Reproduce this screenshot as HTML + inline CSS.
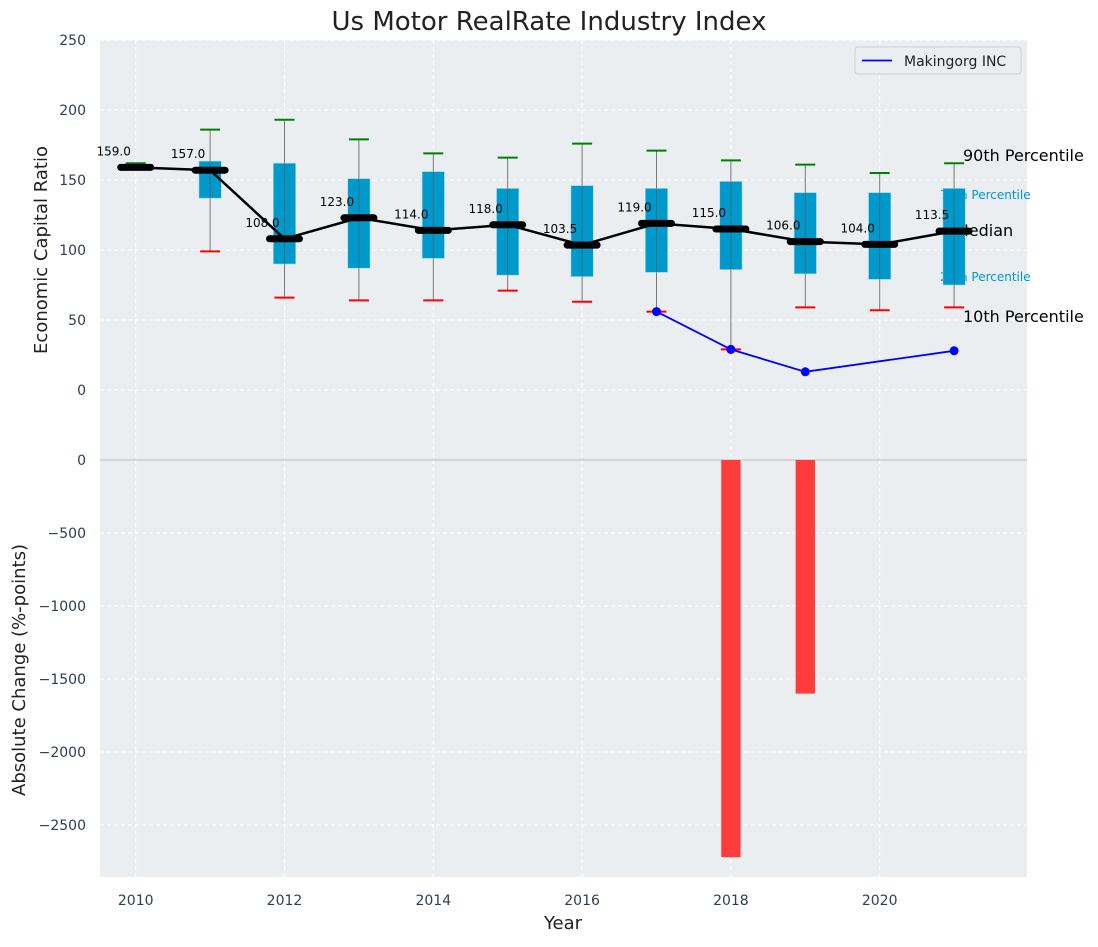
<!DOCTYPE html>
<html><head><meta charset="utf-8"><style>
body{margin:0;background:#fff;}
svg{font-family:"DejaVu Sans","Liberation Sans",sans-serif;}
</style></head><body>
<svg id="c" width="1098" height="942" xmlns="http://www.w3.org/2000/svg"></svg>
<script>
const years=[2010,2011,2012,2013,2014,2015,2016,2017,2018,2019,2020,2021];
const p90=[162,186,193,179,169,166,176,171,164,161,155,162];
const p75=[null,163.5,162,151,156,144,146,144,149,141,141,144];
const med=[159,157,108,123,114,118,103.5,119,115,106,104,113.5];
const p25=[null,137,90,87,94,82,81,84,86,83,79,75];
const p10=[null,99,66,64,64,71,63,56,29,59,57,59];
const compYears=[2017,2018,2019,2021];
const compVals=[56,29,13,28];
const chgYears=[2018,2019];
const chgVals=[-2720,-1600];
const topTicks=[0,50,100,150,200,250];
const botTicks=[0,-500,-1000,-1500,-2000,-2500];
const xTicks=[2010,2012,2014,2016,2018,2020];

const NS='http://www.w3.org/2000/svg';
const svg=document.getElementById('c');
const L=100,R=1027;
const X0=2009.52,X1=2021.98;
const X=y=>L+(y-X0)/(X1-X0)*(R-L);
const YT=v=>390-1.4*v;
const YB=v=>460-v*(73/500);
function el(tag,attrs,parent,text){const e=document.createElementNS(NS,tag);for(const k in attrs)e.setAttribute(k,attrs[k]);if(text!==undefined)e.textContent=text;(parent||svg).appendChild(e);return e;}

let bg=el('rect',{x:L,y:40,width:R-L,height:837,fill:'#eaeef0'});

xTicks.forEach(t=>{let g=el('line',{x1:X(t),x2:X(t),y1:40,y2:877,stroke:'#fff','stroke-dasharray':'4,3'});
 let tl=el('text',{x:X(t),y:905,'text-anchor':'middle','font-size':14,fill:'#2d3e50'},null,t);});
topTicks.forEach(t=>{let g=el('line',{x1:L,x2:R,y1:YT(t),y2:YT(t),stroke:'#fff','stroke-dasharray':'4,3'});
 let tl=el('text',{x:86,y:YT(t)+5,'text-anchor':'end','font-size':14,fill:'#2d3e50'},null,t);});
botTicks.forEach(t=>{let g=el('line',{x1:L,x2:R,y1:YB(t),y2:YB(t),stroke:t===0?'#bbb':'#fff','stroke-dasharray':t===0?'':'4,3'});
 let tl=el('text',{x:86,y:YB(t)+5,'text-anchor':'end','font-size':14,fill:'#2d3e50'},null,(t<0?'\u2212'+(-t):t));});

const rl=[['90th Percentile',963,161,16,'#000'],['75th Percentile',940,199,12,'#0099cc'],['Median',955,236,16,'#000'],['25th Percentile',940,281,12,'#0099cc'],['10th Percentile',963,322,16,'#000']];
rl.forEach(r=>{let t=el('text',{x:r[1],y:r[2],'font-size':r[3],fill:r[4]},null,r[0]);});

const pxYr=(R-L)/(X1-X0);
const bw=0.3*pxYr, cw=20;
years.forEach((y,i)=>{const x=X(y);
 if(p10[i]!==null){let w=el('line',{x1:x,x2:x,y1:YT(p10[i]),y2:YT(p90[i]),stroke:'#777','stroke-width':1});}
 if(p75[i]!==null){let b=el('rect',{x:x-bw/2,y:YT(p75[i]),width:bw,height:YT(p25[i])-YT(p75[i]),fill:'#0099cc',stroke:'#a8d8ea','stroke-width':0.6});
  let w2=el('line',{x1:x,x2:x,y1:YT(p75[i]),y2:YT(p25[i]),stroke:'#555','stroke-width':1,opacity:0.6});}
 let g=el('line',{x1:x-cw/2,x2:x+cw/2,y1:YT(p90[i]),y2:YT(p90[i]),stroke:'green','stroke-width':2});
 if(p10[i]!==null){let r=el('line',{x1:x-cw/2,x2:x+cw/2,y1:YT(p10[i]),y2:YT(p10[i]),stroke:'red','stroke-width':2});}
});
let mp=el('polyline',{points:years.map((y,i)=>X(y)+','+YT(med[i])).join(' '),fill:'none',stroke:'#000','stroke-width':2.5});

years.forEach((y,i)=>{const x=X(y);
 let m=el('line',{x1:x-15,x2:x+15,y1:YT(med[i]),y2:YT(med[i]),stroke:'#000','stroke-width':7,'stroke-linecap':'round'});
 let t=el('text',{x:x-22,y:YT(med[i])-12,'text-anchor':'middle','font-size':12,fill:'#000'},null,med[i].toFixed(1));
});
let cl=el('polyline',{points:compYears.map((y,i)=>X(y)+','+YT(compVals[i])).join(' '),fill:'none',stroke:'blue','stroke-width':1.8});

compYears.forEach((y,i)=>{let c=el('circle',{cx:X(y),cy:YT(compVals[i]),r:4.5,fill:'blue'});});
const barW=0.26*pxYr;
chgYears.forEach((y,i)=>{let b=el('rect',{x:X(y)-barW/2,y:YB(0),width:barW,height:YB(chgVals[i])-YB(0),fill:'#ff3b3b'});});

let lg=el('g',{});
el('rect',{x:855,y:47,width:166,height:27,rx:3,fill:'#eaeef0',stroke:'#ccc'},lg);
el('line',{x1:862,x2:892,y1:60.5,y2:60.5,stroke:'blue','stroke-width':1.8},lg);
el('text',{x:904,y:66,'font-size':14,fill:'#222'},lg,'Makingorg INC');

let tt=el('text',{x:549,y:30,'text-anchor':'middle','font-size':26,fill:'#222'},null,'Us Motor RealRate Industry Index');
let xl=el('text',{x:563,y:929,'text-anchor':'middle','font-size':18,fill:'#222'},null,'Year');
let y1=el('text',{x:0,y:0,'text-anchor':'middle','font-size':18,fill:'#222',transform:'translate(47,250) rotate(-90)'},null,'Economic Capital Ratio');
let y2=el('text',{x:0,y:0,'text-anchor':'middle','font-size':18,fill:'#222',transform:'translate(25,670) rotate(-90)'},null,'Absolute Change (%-points)');
</script>
</body></html>
